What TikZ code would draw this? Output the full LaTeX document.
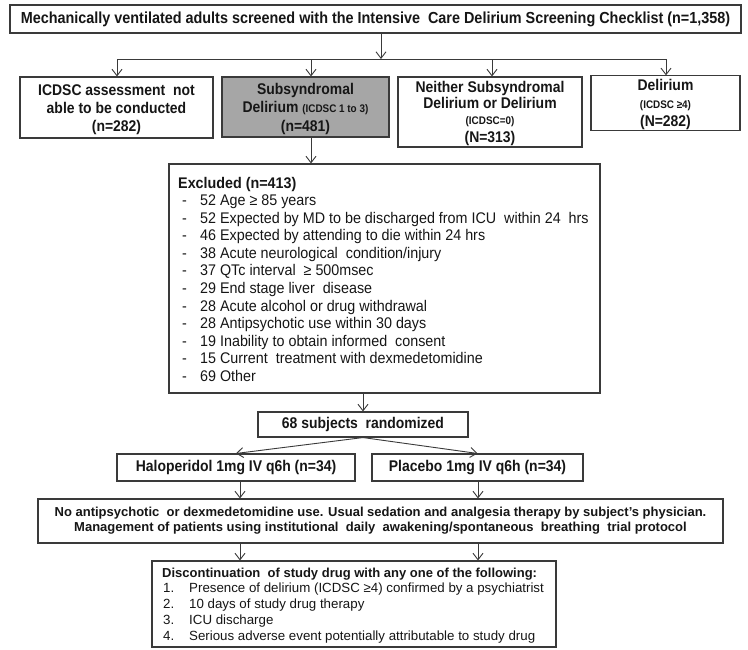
\documentclass[tikz,border=0pt]{standalone}
\usepackage{fontspec}
\setmainfont{Liberation Sans}
\newfontfamily\nf{Liberation Sans}[FakeStretch=0.9]
\newfontfamily\nl{Liberation Sans}[FakeStretch=0.93]
\usetikzlibrary{arrows.meta}
\definecolor{lc}{HTML}{3A3A3A}
\definecolor{gf}{HTML}{A6A6A6}
\definecolor{tc}{HTML}{161616}
\begin{document}
\begin{tikzpicture}[x=1pt,y=-1pt,
  bx/.style={draw=lc, line width=1.1pt, rectangle, inner sep=0pt, text=tc, align=center},
  bigb/.style={font=\nf\fontsize{15.5}{18}\selectfont\bfseries},
  midb/.style={font=\fontsize{13}{15}\selectfont\bfseries},
  lst/.style={anchor=base west, inner sep=0pt, text=tc},
  exf/.style={font=\nl\fontsize{15.4}{17}\selectfont},
  ln/.style={draw=lc, line width=0.9pt},
  arr/.style={draw=lc, line width=0.9pt, -{Straight Barb[length=6.5pt,width=10pt,line width=0.9pt]}}]
\useasboundingbox (0,0) rectangle (748,649);
\fill[white] (0,0) rectangle (748,649);
\newcommand\smtext[1]{{\fontsize{11}{12}\selectfont #1}}
\newcommand\upstrut{\rule{0pt}{15pt}}

% top box
\node[bx, font=\nf\fontsize{16}{18}\selectfont\bfseries, minimum width=731pt, minimum height=28pt] (top) at (375.5,19)
  {Mechanically ventilated adults screened with the Intensive\ \ Care Delirium Screening Checklist (n=1,358)};

% four boxes
\node[bx, bigb, minimum width=193pt, minimum height=61pt] (box1) at (116.5,107.5)
  {\upstrut ICDSC assessment\ \ not\\able to be conducted\\(n=282)};
\node[bx, bigb, fill=gf, minimum width=167pt, minimum height=60pt] (box2) at (305.5,107)
  {\upstrut Subsyndromal\\Delirium \smtext{(ICDSC 1 to 3)}\\[1pt](n=481)};
\node[bx, bigb, minimum width=184pt, minimum height=70pt] (box3) at (490,112)
  {\upstrut Neither Subsyndromal\\[-2pt]Delirium or Delirium\\[-2pt]\smtext{(ICDSC=0)}\\(N=313)};
\node[bx, bigb, minimum width=149pt, minimum height=52pt] (box4) at (665.5,103)
  {\upstrut Delirium\\[0pt]\smtext{(ICDSC ≥4)}\\[0pt](N=282)};

% connectors top
\coordinate (bar) at (381,59);
\coordinate (b1) at (117,59);
\coordinate (b2) at (311,59);
\coordinate (b3) at (492,59);
\coordinate (b4) at (666,59);
\draw[arr] (top.south -| bar) -- (bar);
\draw[ln] (b1) -- (b4);
\draw[arr] (b1) -- (b1 |- box1.north);
\draw[arr] (b2) -- (b2 |- box2.north);
\draw[arr] (b3) -- (b3 |- box3.north);
\draw[arr] (b4) -- (b4 |- box4.north);

% excluded box
\node[bx, minimum width=431pt, minimum height=229pt] (excl) at (384.5,278.5) {};
\node[lst, font=\nl\fontsize{15.4}{17}\selectfont\bfseries] (exh) at (178,188.5) {Excluded (n=413)};
\foreach \t [count=\i] in {
  {52 Age ≥ 85 years},
  {52 Expected by MD to be discharged from ICU\ \ within 24\ \ hrs},
  {46 Expected by attending to die within 24 hrs},
  {38 Acute neurological\ \ condition/injury},
  {37 QTc interval\ \ ≥ 500msec},
  {29 End stage liver\ \ disease},
  {28 Acute alcohol or drug withdrawal},
  {28 Antipsychotic use within 30 days},
  {19 Inability to obtain informed\ \ consent},
  {15 Current\ \ treatment with dexmedetomidine},
  {69 Other}}{
  \node[lst, exf] (exd\i) at (182,187.9+17.6*\i) {-};
  \node[lst, exf] (ext\i) at (200,187.9+17.6*\i) {\t};
}
\draw[arr] (box2.south -| b2) -- (excl.north -| b2);

% randomized
\node[bx, bigb, minimum width=210pt, minimum height=25pt] (rand) at (363,424.5) {68 subjects\ \ randomized};
\draw[arr] (excl.south -| rand) -- (rand.north);

\node[bx, bigb, minimum width=238pt, minimum height=27pt] (halo) at (236,467.5) {Haloperidol 1mg IV q6h (n=34)};
\node[bx, bigb, minimum width=211pt, minimum height=27pt] (plac) at (477.5,467.5) {Placebo 1mg IV q6h (n=34)};
\draw[arr] (rand.south) -- (halo.north);
\draw[arr] (rand.south) -- (plac.north);

% middle box
\node[bx, midb, minimum width=685pt, minimum height=44pt] (mid) at (380.5,521)
  {No antipsychotic\ \ or dexmedetomidine use. Usual sedation and analgesia therapy by subject's physician.\\Management of patients using institutional\ \ daily\ \ awakening/spontaneous\ \ breathing\ \ trial protocol};
\coordinate (c1) at (240,0);
\coordinate (c2) at (478,0);
\draw[arr] (halo.south -| c1) -- (mid.north -| c1);
\draw[arr] (plac.south -| c2) -- (mid.north -| c2);

% bottom box
\node[bx, minimum width=404pt, minimum height=86pt] (bot) at (354,604) {};
\draw[arr] (mid.south -| c1) -- (bot.north -| c1);
\draw[arr] (mid.south -| c2) -- (bot.north -| c2);
\node[lst, font=\fontsize{13}{15}\selectfont\bfseries] (both) at (162,577)
  {Discontinuation\ \ of study drug with any one of the following:};
\foreach \t [count=\i] in {
  {Presence of delirium (ICDSC ≥4) confirmed by a psychiatrist},
  {10 days of study drug therapy},
  {ICU discharge},
  {Serious adverse event potentially attributable to study drug}}{
  \node[lst, font=\fontsize{13.3}{15}\selectfont] (botn\i) at (163,576.5+16*\i) {\i.};
  \node[lst, font=\fontsize{13.3}{15}\selectfont] (bott\i) at (189,576.5+16*\i) {\t};
}
\end{tikzpicture}
\end{document}
